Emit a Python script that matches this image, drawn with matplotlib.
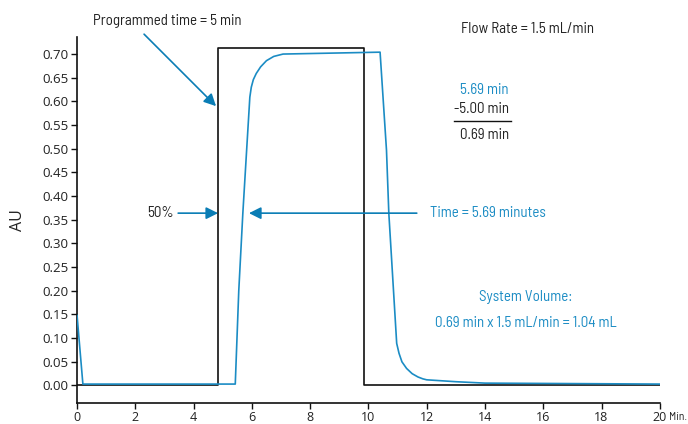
import matplotlib
matplotlib.use("Agg")
import matplotlib.pyplot as plt

# ---- data ----
prog_time = [0, 4.85, 4.85, 9.86, 9.86, 20]
prog_au = [0.002, 0.002, 0.712, 0.712, 0.0, 0.0]

trace_time = [0, 0.2, 5.43, 5.55, 5.69, 5.82, 5.93, 5.98, 6.05, 6.15, 6.3, 6.5, 6.75, 7.07,
              10.4, 10.62, 10.70, 10.97, 11.05, 11.15, 11.31, 11.5, 11.7, 11.87, 12.0, 13.0, 14.0, 20.0]
trace_au = [0.148, 0.003, 0.003, 0.2, 0.364, 0.497, 0.609, 0.630, 0.646, 0.659, 0.673, 0.686, 0.695, 0.700,
            0.704, 0.497, 0.364, 0.089, 0.068, 0.050, 0.036, 0.025, 0.018, 0.014, 0.012, 0.008, 0.005, 0.003]

x_ticks = [0, 2, 4, 6, 8, 10, 12, 14, 16, 18, 20]
y_ticks = [0.00, 0.05, 0.10, 0.15, 0.20, 0.25, 0.30, 0.35, 0.40, 0.45, 0.50, 0.55, 0.60, 0.65, 0.70]

ANN = ['Barlow Semi Condensed', 'DejaVu Sans']
TICK = ['Open Sans', 'DejaVu Sans']
plt.rcParams['font.family'] = ANN

BLUE = '#1b8cc4'
ARROW = '#0a7db5'
TXT = '#222222'
FS = 10.8

fig = plt.figure(figsize=(6.88, 4.24), dpi=100)
ax = fig.add_axes([0.112, 0.0495, 0.847, 0.8632])

ax.plot(prog_time, prog_au, color='#111111', lw=1.2, zorder=2)
ax.plot(trace_time, trace_au, color=BLUE, lw=1.2, zorder=3)

ax.set_xlim(0, 20)
ax.set_ylim(-0.037, 0.736)
ax.set_xticks(x_ticks)
ax.set_xticklabels([str(t) for t in x_ticks], fontsize=9, color=TXT, family=TICK)
ax.set_yticks(y_ticks)
ax.set_yticklabels([f"{v:.2f}" for v in y_ticks], fontsize=9.5, color=TXT, family=TICK)
ax.tick_params(axis='both', length=4, width=1, color='#111111', pad=2)
for s in ['top', 'right']:
    ax.spines[s].set_visible(False)
for s in ['left', 'bottom']:
    ax.spines[s].set_linewidth(1.2)
    ax.spines[s].set_color('#111111')
ax.set_ylabel('AU', fontsize=11.5, color=TXT, labelpad=12, family=TICK)

ax.text(20.3, -0.067, 'Min.', fontsize=8.3, color=TXT, ha='left', va='center', clip_on=False)

arrowprops = dict(arrowstyle='-|>', color=ARROW, lw=1.2, mutation_scale=18, shrinkA=0, shrinkB=0)

# Programmed time annotation
ax.text(3.09, 0.770, 'Programmed time = 5 min', fontsize=FS, color=TXT, ha='center', va='center', clip_on=False)
ax.annotate('', xy=(4.77, 0.590), xytext=(2.30, 0.742), arrowprops=arrowprops, annotation_clip=False)

# 50% annotation
ax.text(3.32, 0.364, '50%', fontsize=FS, color=TXT, ha='right', va='center')
ax.annotate('', xy=(4.84, 0.364), xytext=(3.47, 0.364), arrowprops=arrowprops)

# Time = 5.69 minutes
ax.annotate('', xy=(5.90, 0.364), xytext=(11.66, 0.364), arrowprops=arrowprops)
ax.text(12.11, 0.364, 'Time = 5.69 minutes', fontsize=FS, color=BLUE, ha='left', va='center')

# Flow rate
ax.text(15.47, 0.753, 'Flow Rate = 1.5 mL/min', fontsize=FS, color=TXT, ha='center', va='center', clip_on=False)

# subtraction
ax.text(14.82, 0.624, '5.69 min', fontsize=FS, color=BLUE, ha='right', va='center')
ax.text(14.82, 0.584, '-5.00 min', fontsize=FS, color=TXT, ha='right', va='center')
ax.plot([12.93, 14.89], [0.558, 0.558], color='#111111', lw=1.0)
ax.text(14.82, 0.529, '0.69 min', fontsize=FS, color=TXT, ha='right', va='center')

# system volume
ax.text(15.39, 0.186, 'System Volume:', fontsize=FS, color=BLUE, ha='center', va='center')
ax.text(15.39, 0.131, '0.69 min x 1.5 mL/min = 1.04 mL', fontsize=FS, color=BLUE, ha='center', va='center')

fig.savefig('out.png', dpi=100)
